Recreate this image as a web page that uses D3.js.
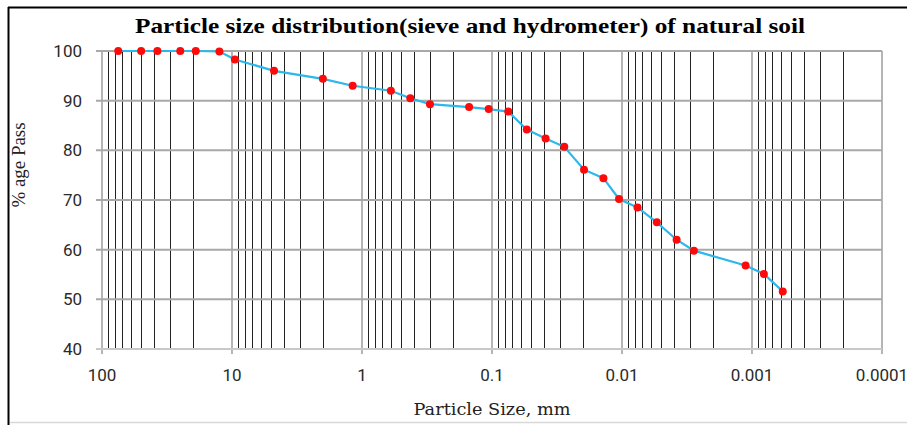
<!DOCTYPE html>
<html>
<head>
  <title>Particle size distribution</title>
  <script src="https://d3js.org/d3.v7.min.js"></script>
  <style>
    body { margin: 0; background: #fff; }
    svg { display: block; }
  </style>
</head>
<body>
  <svg id="chart"></svg>

  <script>
    // Data: particle size (mm) and % passing
    const sizes = [75, 50, 37.5, 25, 19, 12.5, 9.5, 4.75, 2.0, 1.18, 0.6, 0.425, 0.3,
                   0.15, 0.106, 0.075, 0.054, 0.0387, 0.0278, 0.0196, 0.0139, 0.01054,
                   0.0076, 0.0054, 0.0038, 0.0028, 0.00112, 0.00081, 0.00058];
    const passing = [100, 100, 100, 100, 100, 99.9, 98.3, 96.0, 94.4, 93.0, 92.0, 90.5, 89.3,
                     88.7, 88.3, 87.8, 84.2, 82.4, 80.7, 76.1, 74.4, 70.2,
                     68.5, 65.5, 62.0, 59.8, 56.8, 55.1, 51.6];
    const xTickValues = [100, 10, 1, 0.1, 0.01, 0.001, 0.0001];
    const xTickLabels = ["100", "10", "1", "0.1", "0.01", "0.001", "0.0001"];
    const yTickValues = [40, 50, 60, 70, 80, 90, 100];

    const width = 907, height = 425;
    const margin = { top: 51, right: 25, bottom: 76, left: 102 };
    const plotW = 882 - margin.left, plotH = 349 - margin.top;

    const svg = d3.select("#chart")
                  .attr("width", width)
                  .attr("height", height);

    // outer frame
    svg.append("line").attr("x1", 8).attr("x2", width).attr("y1", 7.5).attr("y2", 7.5)
       .attr("stroke", "#000").attr("stroke-width", 2);
    svg.append("line").attr("x1", 8.5).attr("x2", 8.5).attr("y1", 7).attr("y2", 425)
       .attr("stroke", "#000").attr("stroke-width", 2);
    svg.append("line").attr("x1", 10).attr("x2", width).attr("y1", 422.5).attr("y2", 422.5)
       .attr("stroke", "#d8d8d8").attr("stroke-width", 1.5);

    const x = d3.scaleLog().domain([100, 0.0001]).range([0, plotW]);
    const y = d3.scaleLinear().domain([40, 100]).range([plotH, 0]);

    const g = svg.append("g").attr("transform", `translate(${margin.left},${margin.top})`);

    // minor vertical grid (2..9 of every decade)
    const minors = [];
    for (let e = -4; e < 2; e++) {
      for (let m = 2; m <= 9; m++) minors.push(m * Math.pow(10, e));
    }
    g.selectAll("line.minor")
     .data(minors)
     .enter().append("line")
     .attr("class", "minor")
     .attr("x1", d => Math.round(x(d)) + 0.5).attr("x2", d => Math.round(x(d)) + 0.5)
     .attr("y1", 0).attr("y2", plotH)
     .attr("stroke", "#222").attr("stroke-width", 1);

    // major vertical grid
    g.selectAll("line.major")
     .data(xTickValues)
     .enter().append("line")
     .attr("class", "major")
     .attr("x1", d => x(d)).attr("x2", d => x(d))
     .attr("y1", 0).attr("y2", plotH + 5)
     .attr("stroke", "#b5b5b5").attr("stroke-width", 2);

    // horizontal grid
    g.selectAll("line.hgrid")
     .data(yTickValues)
     .enter().append("line")
     .attr("class", "hgrid")
     .attr("x1", -6).attr("x2", plotW)
     .attr("y1", d => y(d)).attr("y2", d => y(d))
     .attr("stroke", d => d === 40 ? "#c8c8c8" : "#a8a8a8").attr("stroke-width", 2);

    // tick labels
    g.selectAll("text.xlab")
     .data(xTickValues)
     .enter().append("text")
     .attr("class", "xlab")
     .attr("x", d => x(d)).attr("y", plotH + 32)
     .attr("text-anchor", "middle")
     .attr("font-family", "Roboto, 'Noto Sans', sans-serif")
     .attr("font-size", 17).attr("fill", "#2a2a2a")
     .text((d, i) => xTickLabels[i]);

    g.selectAll("text.ylab")
     .data(yTickValues)
     .enter().append("text")
     .attr("class", "ylab")
     .attr("x", -20).attr("y", d => y(d) + 6)
     .attr("text-anchor", "end")
     .attr("font-family", "Roboto, 'Noto Sans', sans-serif")
     .attr("font-size", 17).attr("fill", "#2a2a2a")
     .text(d => d);

    // curve
    const pts = sizes.map((s, i) => ({ s: s, p: passing[i] }));
    g.append("path")
     .datum(pts)
     .attr("fill", "none")
     .attr("stroke", "#2cb8ea")
     .attr("stroke-width", 2.2)
     .attr("d", d3.line().x(d => x(d.s)).y(d => y(d.p)));

    g.selectAll("circle")
     .data(pts)
     .enter().append("circle")
     .attr("cx", d => x(d.s)).attr("cy", d => y(d.p))
     .attr("r", 4).attr("fill", "#ff0a0a");

    // titles
    svg.append("text")
       .attr("x", 470).attr("y", 33)
       .attr("text-anchor", "middle")
       .attr("font-family", "'Liberation Serif', 'Times New Roman', serif")
       .attr("font-weight", "bold").attr("font-size", 22)
       .attr("textLength", 670).attr("lengthAdjust", "spacingAndGlyphs")
       .attr("fill", "#000")
       .text("Particle size distribution(sieve and hydrometer) of natural soil");

    svg.append("text")
       .attr("x", 492).attr("y", 415)
       .attr("text-anchor", "middle")
       .attr("font-family", "'DejaVu Serif', serif")
       .attr("font-size", 17).attr("fill", "#222")
       .attr("textLength", 157).attr("lengthAdjust", "spacingAndGlyphs")
       .text("Particle Size, mm");

    svg.append("text")
       .attr("transform", "translate(25,165) rotate(-90)")
       .attr("text-anchor", "middle")
       .attr("font-family", "'Liberation Serif', 'Times New Roman', serif")
       .attr("font-size", 18).attr("fill", "#222")
       .attr("textLength", 85).attr("lengthAdjust", "spacingAndGlyphs")
       .text("% age Pass");
  </script>
</body>
</html>
